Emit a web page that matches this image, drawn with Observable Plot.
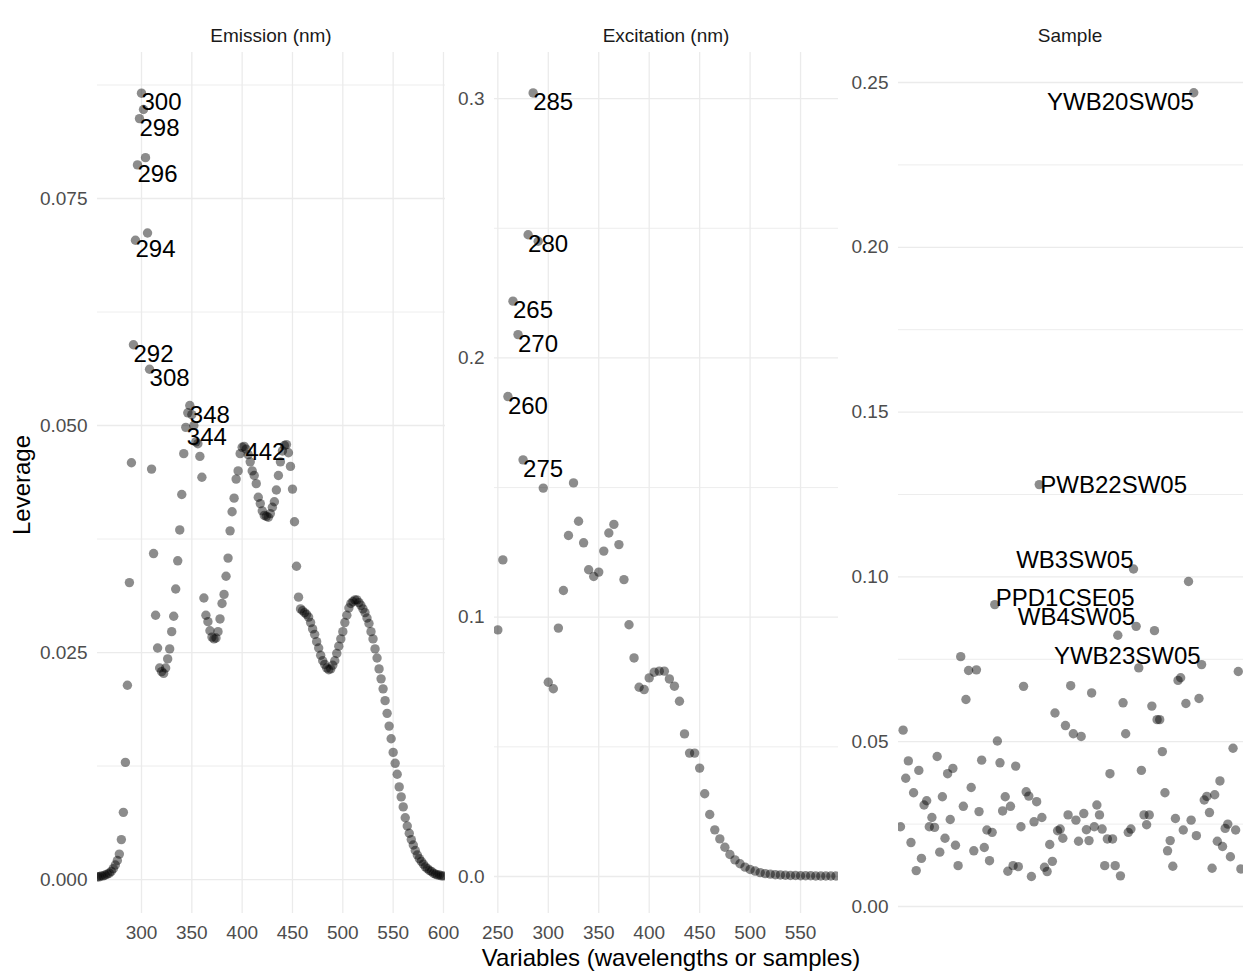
<!DOCTYPE html>
<html>
<head>
<meta charset="utf-8">
<script src="https://cdn.jsdelivr.net/npm/d3@7"></script>
<script src="https://cdn.jsdelivr.net/npm/@observablehq/plot@0.6"></script>
<style>
  html, body { margin: 0; padding: 0; background: #fff; }
  body { font-family: "Liberation Sans", Arial, Helvetica, sans-serif; }
  #wrap { position: relative; width: 1243px; height: 972px; overflow: hidden; background: #fff; }
  .pane { position: absolute; top: 0; }
  .pane svg { overflow: visible; background: transparent !important; max-width: none !important; }
  .strip { position: absolute; top: 24px; font-size: 19px; line-height: 24px; color: #1a1a1a; transform: translateX(-50%); white-space: nowrap; }
  .xtitle { position: absolute; left: 671px; top: 946px; font-size: 24px; line-height: 24px; color: #000; transform: translateX(-50%); white-space: nowrap; }
  .ytitle { position: absolute; left: 22px; top: 485px; font-size: 24px; line-height: 24px; color: #000; transform: translate(-50%, -50%) rotate(-90deg); white-space: nowrap; }
</style>
</head>
<body>
<div id="wrap">
  <div class="pane" id="p1" style="left:0px"></div>
  <div class="pane" id="p2" style="left:450px"></div>
  <div class="pane" id="p3" style="left:843px"></div>
  <div class="strip" style="left:271px">Emission (nm)</div>
  <div class="strip" style="left:666px">Excitation (nm)</div>
  <div class="strip" style="left:1070px">Sample</div>
  <div class="ytitle">Leverage</div>
  <div class="xtitle">Variables (wavelengths or samples)</div>
</div>
<script>
// ---------------- DATA ----------------
const emissionNm = [256,258,260,262,264,266,268,270,272,274,276,278,280,282,284,286,288,290,292,294,296,298,300,302,304,306,308,310,312,314,316,318,320,322,324,326,328,330,332,334,336,338,340,342,344,346,348,350,352,354,356,358,360,362,364,366,368,370,372,374,376,378,380,382,384,386,388,390,392,394,396,398,400,402,404,406,408,410,412,414,416,418,420,422,424,426,428,430,432,434,436,438,440,442,444,446,448,450,452,454,456,458,460,462,464,466,468,470,472,474,476,478,480,482,484,486,488,490,492,494,496,498,500,502,504,506,508,510,512,514,516,518,520,522,524,526,528,530,532,534,536,538,540,542,544,546,548,550,552,554,556,558,560,562,564,566,568,570,572,574,576,578,580,582,584,586,588,590,592,594,596,598,600];
const emissionLeverage = [
  0.0003,0.0003,0.0004,0.0004,0.0005,0.0006,0.0007,0.0009,0.0012,0.0016,
  0.0021,0.0028,0.0044,0.0074,0.0129,0.0214,0.0327,0.0459,0.0589,0.0704,
  0.0787,0.0838,0.0866,0.0848,0.0795,0.0712,0.0562,0.0452,0.0359,0.0291,
  0.0255,0.0233,0.0229,0.0227,0.0233,0.0243,0.0254,0.0273,0.0290,0.0320,
  0.0351,0.0385,0.0424,0.0469,0.0498,0.0514,0.0522,0.0512,0.0500,0.0482,
  0.0480,0.0466,0.0443,0.0310,0.0291,0.0284,0.0274,0.0267,0.0265,0.0266,
  0.0273,0.0287,0.0304,0.0314,0.0334,0.0354,0.0384,0.0405,0.0420,0.0441,
  0.0450,0.0469,0.0476,0.0477,0.0474,0.0468,0.0460,0.0450,0.0445,0.0436,
  0.0421,0.0414,0.0406,0.0401,0.0400,0.0399,0.0403,0.0410,0.0416,0.0429,
  0.0445,0.0460,0.0472,0.0478,0.0479,0.0470,0.0455,0.0430,0.0394,0.0345,
  0.0311,0.0298,0.0296,0.0294,0.0292,0.0289,0.0283,0.0276,0.0270,0.0262,
  0.0255,0.0247,0.0241,0.0237,0.0233,0.0231,0.0232,0.0236,0.0241,0.0249,
  0.0257,0.0265,0.0273,0.0283,0.0291,0.0299,0.0304,0.0306,0.0308,0.0308,
  0.0305,0.0302,0.0298,0.0294,0.0288,0.0282,0.0273,0.0265,0.0254,0.0244,
  0.0232,0.0221,0.0210,0.0197,0.0183,0.0169,0.0155,0.0140,0.0128,0.0116,
  0.0102,0.0091,0.0080,0.0068,0.0059,0.0051,0.0044,0.0038,0.0032,0.0027,
  0.0023,0.0020,0.0017,0.0014,0.0012,0.0010,0.0009,0.0007,0.0006,0.0005,
  0.0005,0.0004,0.0004
];
const emissionLabelled = [300, 298, 296, 294, 292, 308, 348, 344, 442];

const excitationNm = [250,255,260,265,270,275,280,285,290,295,300,305,310,315,320,325,330,335,340,345,350,355,360,365,370,375,380,385,390,395,400,405,410,415,420,425,430,435,440,445,450,455,460,465,470,475,480,485,490,495,500,505,510,515,520,525,530,535,540,545,550,555,560,565,570,575,580,585];
const excitationLeverage = [
  0.0951,0.1221,0.1851,0.2219,0.2090,0.1607,0.2475,0.3022,0.2450,0.1498,
  0.0749,0.0724,0.0958,0.1103,0.1315,0.1518,0.1370,0.1287,0.1183,0.1157,
  0.1174,0.1255,0.1325,0.1358,0.1280,0.1145,0.0971,0.0843,0.0730,0.0721,
  0.0766,0.0788,0.0792,0.0792,0.0762,0.0734,0.0676,0.0550,0.0476,0.0476,
  0.0418,0.0319,0.0239,0.0180,0.0145,0.0113,0.0085,0.0064,0.0049,0.0036,
  0.0027,0.0021,0.0015,0.0011,0.0009,0.0007,0.0006,0.0005,0.0004,0.0004,
  0.0003,0.0003,0.0003,0.0002,0.0002,0.0002,0.0002,0.0002
];
const excitationLabelled = [285, 280, 265, 270, 260, 275];

// samples in plotting order (index 1..131)
const sampleLeverage = [
  0.0242,0.0535,0.0389,0.0442,0.0194,0.0345,0.0109,0.0413,0.0146,0.0308,
  0.0321,0.0242,0.0270,0.0240,0.0455,0.0165,0.0333,0.0207,0.0403,0.0264,
  0.0419,0.0186,0.0124,0.0758,0.0304,0.0628,0.0716,0.0361,0.0169,0.0718,
  0.0288,0.0444,0.0179,0.0232,0.0139,0.0225,0.0916,0.0502,0.0436,0.0290,
  0.0333,0.0107,0.0304,0.0124,0.0426,0.0121,0.0242,0.0668,0.0348,0.0335,
  0.0091,0.0257,0.0318,0.1280,0.0270,0.0119,0.0106,0.0188,0.0137,0.0587,
  0.0230,0.0235,0.0207,0.0549,0.0278,0.0670,0.0524,0.0262,0.0198,0.0516,
  0.0282,0.0233,0.0200,0.0648,0.0242,0.0308,0.0278,0.0235,0.0124,0.0205,
  0.0403,0.0205,0.0124,0.0823,0.0093,0.0618,0.0524,0.0225,0.0235,0.1024,
  0.0850,0.0724,0.0413,0.0278,0.0248,0.0278,0.0608,0.0837,0.0567,0.0567,
  0.0470,0.0345,0.0169,0.0200,0.0122,0.0267,0.0686,0.0694,0.0232,0.0616,
  0.0986,0.0262,0.2469,0.0215,0.0631,0.0734,0.0323,0.0334,0.0285,0.0116,
  0.0339,0.0198,0.0381,0.0182,0.0237,0.0250,0.0151,0.0480,0.0232,0.0713,
  0.0114
];
const sampleLabelNames = ["YWB20SW05", "PWB22SW05", "WB3SW05", "PPD1CSE05", "WB4SW05", "YWB23SW05"];
const sampleLabelIndex = [113, 54, 90, 37, 91, 116];

const emissionTicks = [300, 350, 400, 450, 500, 550, 600];
const excitationTicks = [250, 300, 350, 400, 450, 500, 550];
const emissionYMajor = [0, 0.025, 0.05, 0.075];
const emissionYMinor = [0.0125, 0.0375, 0.0625, 0.0875];
const excitationYMajor = [0, 0.1, 0.2, 0.3];
const excitationYMinor = [0.05, 0.15, 0.25];
const sampleYMajor = [0, 0.05, 0.10, 0.15, 0.20, 0.25];
const sampleYMinor = [0.025, 0.075, 0.125, 0.175, 0.225];

// ---------------- TABLES ----------------
const emission = emissionNm.map((nm, i) => ({x: nm, y: emissionLeverage[i], label: String(nm)}));
const excitation = excitationNm.map((nm, i) => ({x: nm, y: excitationLeverage[i], label: String(nm)}));
const samples = sampleLeverage.map((v, i) => ({x: i + 1, y: v}));
const sampleLabels = sampleLabelNames.map((n, k) => ({x: sampleLabelIndex[k], y: sampleLeverage[sampleLabelIndex[k] - 1], label: n}));

// ---------------- STYLE ----------------
const FONT = '"Liberation Sans", Arial, Helvetica, sans-serif';
const GRID = "#ebebeb";
const dotStyle = {r: 4.7, fill: "black", fillOpacity: 0.45, stroke: "none", clip: true};
const labelBase = {text: "label", fill: "black", fontSize: 24, fontFamily: FONT};

function labelMarks(rows, place) {
  return rows.map(d => {
    const p = place[d.label] || place.default;
    return Plot.text([d], {...labelBase, x: "x", y: "y", textAnchor: p.anchor, dx: p.dx, dy: p.dy});
  });
}

function panel({width, marginLeft, marginRight, xDomain, xTicks, yDomain, yMajor, yMinor, yFormat, data, labels}) {
  const marks = [
    Plot.ruleY(yMinor, {stroke: GRID, strokeWidth: 0.9}),
    Plot.ruleY(yMajor, {stroke: GRID, strokeWidth: 1.3}),
  ];
  if (xTicks) marks.push(Plot.ruleX(xTicks, {stroke: GRID, strokeWidth: 1.3}));
  marks.push(Plot.dot(data, {x: "x", y: "y", ...dotStyle}));
  marks.push(...labels);
  return Plot.plot({
    width, height: 972,
    marginTop: 52, marginBottom: 59, marginLeft, marginRight,
    style: {fontFamily: FONT, fontSize: "19px", color: "#4d4d4d", background: "transparent", overflow: "visible"},
    x: xTicks
      ? {domain: xDomain, ticks: xTicks, tickSize: 0, tickPadding: 12, label: null, tickFormat: d => String(d)}
      : {domain: xDomain, axis: null},
    y: {domain: yDomain, ticks: yMajor, tickSize: 0, tickPadding: 10, label: null, tickFormat: d3.format(yFormat)},
    marks
  });
}

const emPlace = {default: {anchor: "start", dx: 0, dy: 9.5}, "442": {anchor: "end", dx: 1, dy: 7}, "344": {anchor: "start", dx: 1, dy: 10}};
const exPlace = {default: {anchor: "start", dx: 0, dy: 9.5}};
const saPlace = {
  default: {anchor: "start", dx: 1, dy: 0},
  YWB20SW05: {anchor: "end", dx: 0, dy: 10},
  PWB22SW05: {anchor: "start", dx: 1, dy: 1},
  WB3SW05: {anchor: "end", dx: 0, dy: -9},
  PPD1CSE05: {anchor: "start", dx: 1, dy: -6},
  WB4SW05: {anchor: "end", dx: -1, dy: -9},
  YWB23SW05: {anchor: "end", dx: -1, dy: -8}
};

document.getElementById("p1").append(panel({
  width: 450, marginLeft: 97, marginRight: 5,
  xDomain: [256.3, 602], xTicks: emissionTicks,
  yDomain: [-0.00374, 0.09108], yMajor: emissionYMajor, yMinor: emissionYMinor, yFormat: ".3f",
  data: emission,
  labels: labelMarks(emission.filter(d => emissionLabelled.includes(d.x)), emPlace)
}));

document.getElementById("p2").append(panel({
  width: 393, marginLeft: 44, marginRight: 5,
  xDomain: [246.7, 587.6], xTicks: excitationTicks,
  yDomain: [-0.01427, 0.3178], yMajor: excitationYMajor, yMinor: excitationYMinor, yFormat: ".1f",
  data: excitation,
  labels: labelMarks(excitation.filter(d => excitationLabelled.includes(d.x)), exPlace)
}));

document.getElementById("p3").append(panel({
  width: 400, marginLeft: 55, marginRight: 0,
  xDomain: [0.24, 132.0], xTicks: null,
  yDomain: [-0.00212, 0.2591], yMajor: sampleYMajor, yMinor: sampleYMinor, yFormat: ".2f",
  data: samples,
  labels: labelMarks(sampleLabels, saPlace)
}));
</script>
</body>
</html>
